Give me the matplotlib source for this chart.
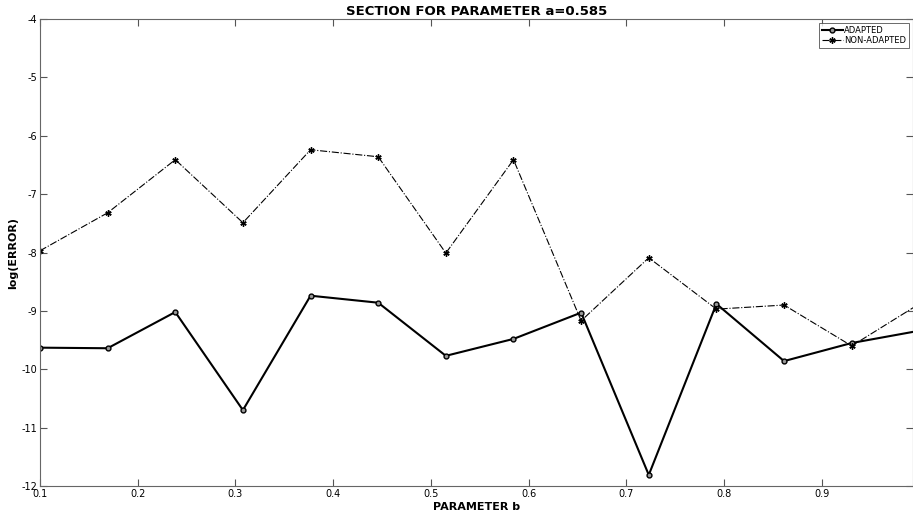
import numpy as np
import matplotlib
matplotlib.use('Agg')
import matplotlib.pyplot as plt

plt.rcParams['axes.unicode_minus'] = False

b = np.linspace(0.1, 1.0, 14)
adapted = [-9.63, -9.64, -9.02, -10.70, -8.74, -8.86, -9.77, -9.48, -9.03, -11.81, -8.88, -9.86, -9.55, -9.34]
non_adapted = [-7.97, -7.32, -6.41, -7.49, -6.24, -6.36, -8.01, -6.41, -9.17, -8.09, -8.97, -8.90, -9.60, -8.88]

fig = plt.figure(figsize=(9.13, 5.16), dpi=100)
ax = fig.add_axes([0.0438, 0.0581, 0.9562, 0.9051])

ax.plot(b, adapted, '-', color='black', lw=1.5, marker='o', ms=3.5,
        mfc='#999999', mec='black', mew=1.0, label='ADAPTED')
ax.plot(b, non_adapted, '-.', color='black', lw=0.8, marker=(6, 2, 0), ms=4.5,
        mec='black', mew=1.0, label='NON-ADAPTED')

ax.set_xlim(0.1, 0.9935)
ax.set_ylim(-12, -4)
ax.set_xticks([0.1, 0.2, 0.3, 0.4, 0.5, 0.6, 0.7, 0.8, 0.9])
ax.set_yticks(range(-12, -3))
ax.tick_params(direction='in', length=5, width=0.8, color='#555555',
               labelsize=7, top=True, right=True, pad=2)
for s in ax.spines.values():
    s.set_color('#666666')
    s.set_linewidth(0.8)

ax.set_title('SECTION FOR PARAMETER a=0.585', fontsize=9.5, fontweight='bold', pad=3)
ax.set_xlabel('PARAMETER b', fontsize=8, fontweight='bold', labelpad=2)
ax.set_ylabel('log(ERROR)', fontsize=8, fontweight='bold', labelpad=2)

leg = ax.legend(loc='upper right', fontsize=6, frameon=True, fancybox=False,
                edgecolor='#444444', borderpad=0.3, handlelength=2.5,
                handletextpad=0.2, labelspacing=0.2, borderaxespad=0.5)
leg.get_frame().set_linewidth(0.7)

fig.savefig('out.png', dpi=100)
